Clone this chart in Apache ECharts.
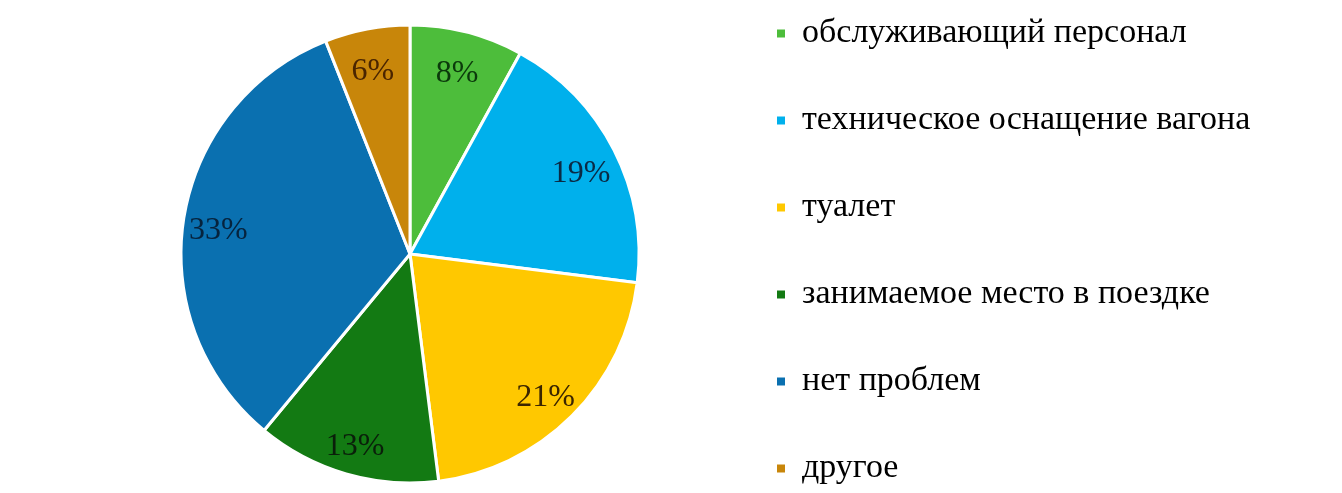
<!DOCTYPE html>
<html>
<head>
<meta charset="utf-8">
<script src="https://cdn.jsdelivr.net/npm/echarts@6/dist/echarts.min.js"></script>
<style>
html,body{margin:0;padding:0;background:#fff;}
#chart{width:1342px;height:493px;}
</style>
</head>
<body>
<div id="chart"></div>
<script>
var categories = ['обслуживающий персонал','техническое оснащение вагона','туалет','занимаемое место в поездке','нет проблем','другое'];
var values = [8, 19, 21, 13, 33, 6];
var colors = ['#4DBD3B','#00B0EC','#FFC800','#137A13','#0A70B0','#C8860A'];
var labelColors = ['#0b3a0b','#0a2a45','#3a2500','#0a1f0a','#06233d','#4a2500'];

var data = categories.map(function(c,i){
  return {name:c, value:values[i], itemStyle:{color:colors[i]}};
});
var labelData = categories.map(function(c,i){
  return {name:c, value:values[i], label:{color:labelColors[i]}};
});

var chart = echarts.init(document.getElementById('chart'), null, {renderer:'canvas'});
chart.setOption({
  backgroundColor:'#fff',
  animation:false,
  legend:{
    orient:'vertical',
    left:770,
    top:8,
    height:480,
    itemWidth:10,
    itemHeight:10,
    itemGap:46,
    icon:'rect',
    data:categories,
    textStyle:{fontFamily:'Liberation Serif',fontSize:34,color:'#000',lineHeight:41,padding:[0,0,0,11]}
  },
  series:[
    {
      type:'pie',
      center:[410,254],
      radius:[0,229],
      startAngle:90,
      clockwise:true,
      data:data,
      itemStyle:{borderColor:'#fff',borderWidth:3},
      label:{show:false},
      labelLine:{show:false},
      emphasis:{disabled:true}
    },
    {
      type:'pie',
      center:[410,254],
      radius:[152,228],
      startAngle:90,
      clockwise:true,
      silent:true,
      data:labelData,
      itemStyle:{color:'rgba(0,0,0,0)',borderWidth:0},
      label:{show:true,position:'inside',formatter:'{c}%',fontFamily:'Liberation Serif',fontSize:32,color:'#111',offset:[-1,7]},
      labelLine:{show:false},
      emphasis:{disabled:true}
    }
  ]
});
</script>
</body>
</html>
